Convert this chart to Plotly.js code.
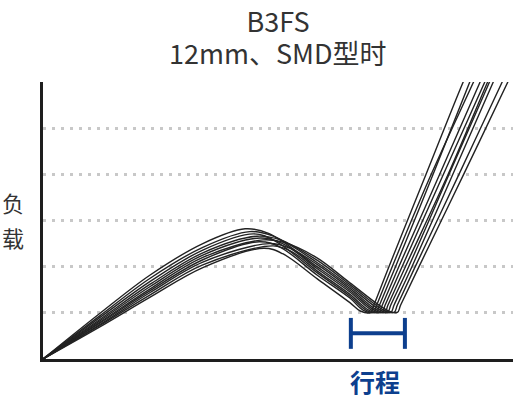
<!DOCTYPE html>
<html>
<head>
<meta charset="utf-8">
<script src="https://cdn.plot.ly/plotly-3.0.1.min.js"></script>
<style>
  html, body { margin: 0; padding: 0; background: #fff; }
  #gd { width: 516px; height: 402px; }
</style>
</head>
<body>
<div id="gd"></div>
<script>
var travel = [
  [0, 1.2, 2.28, 3.4, 4.30, 4.80, 5.83, 6.53, 7.05, 7.27, 7.34, 7.71, 8.62, 9.46, 9.68],
  [0, 1.2, 2.28, 3.4, 4.40, 4.90, 5.83, 6.53, 7.18, 7.40, 7.47, 7.85, 8.72, 9.58, 9.80],
  [0, 1.2, 2.28, 3.4, 4.48, 4.95, 5.83, 6.53, 6.87, 7.09, 7.16, 7.50, 8.30, 9.08, 9.29],
  [0, 1.2, 2.28, 3.4, 4.55, 5.05, 5.83, 6.53, 7.25, 7.47, 7.54, 7.92, 8.85, 9.77, 10.0],
  [0, 1.2, 2.28, 3.4, 4.62, 5.10, 5.83, 6.53, 6.99, 7.21, 7.28, 7.64, 8.52, 9.40, 9.62],
  [0, 1.2, 2.28, 3.4, 4.68, 5.15, 5.83, 6.53, 7.32, 7.54, 7.61, 8.00, 8.95, 9.89, 10.12],
  [0, 1.2, 2.28, 3.4, 4.60, 5.05, 5.83, 6.53, 6.81, 7.03, 7.10, 7.43, 8.26, 9.16, 9.38],
  [0, 1.2, 2.28, 3.4, 4.82, 5.25, 5.83, 6.53, 7.11, 7.33, 7.40, 7.78, 8.64, 9.50, 9.72],
  [0, 1.2, 2.28, 3.4, 4.90, 5.30, 5.83, 6.53, 6.93, 7.15, 7.22, 7.57, 8.44, 9.30, 9.52],
  [0, 1.2, 2.28, 3.4, 4.70, 5.10, 5.83, 6.53, 6.75, 6.97, 7.04, 7.36, 8.15, 8.94, 9.16]
];
var load = [
  [0, 0.98, 1.82, 2.50, 2.82, 2.72, 2.00, 1.49, 1.06, 1.01, 1.17, 2, 4, 6, 6.5],
  [0, 0.93, 1.75, 2.42, 2.76, 2.66, 2.09, 1.57, 1.06, 1.01, 1.17, 2, 4, 6, 6.5],
  [0, 0.89, 1.68, 2.36, 2.71, 2.55, 1.87, 1.36, 1.06, 1.01, 1.17, 2, 4, 6, 6.5],
  [0, 0.85, 1.62, 2.30, 2.66, 2.58, 2.14, 1.61, 1.06, 1.01, 1.17, 2, 4, 6, 6.5],
  [0, 0.82, 1.57, 2.25, 2.62, 2.50, 1.96, 1.45, 1.06, 1.01, 1.17, 2, 4, 6, 6.5],
  [0, 0.79, 1.52, 2.20, 2.58, 2.52, 2.19, 1.65, 1.06, 1.01, 1.17, 2, 4, 6, 6.5],
  [0, 0.77, 1.48, 2.15, 2.54, 2.42, 1.82, 1.32, 1.06, 1.01, 1.17, 2, 4, 6, 6.5],
  [0, 0.74, 1.44, 2.10, 2.50, 2.40, 2.05, 1.53, 1.06, 1.01, 1.17, 2, 4, 6, 6.5],
  [0, 0.72, 1.39, 2.04, 2.45, 2.32, 1.91, 1.40, 1.06, 1.01, 1.17, 2, 4, 6, 6.5],
  [0, 0.69, 1.34, 1.98, 2.40, 2.28, 1.74, 1.22, 1.04, 1.01, 1.17, 2, 4, 6, 6.5]
];

// the blue stroke bracket
var bracketX = [6.55, 6.55, null, 6.55, 7.70, null, 7.70, 7.70];
var bracketY = [0.22, 0.89, null, 0.56, 0.56, null, 0.22, 0.89];

var gridLevels = [1, 2, 3, 4, 5];

var blue = "#0d3f8e";
var font = "Noto Sans CJK SC";

var data = [];
for (var i = 0; i < travel.length; i++) {
  data.push({
    x: travel[i],
    y: load[i],
    type: "scatter",
    mode: "lines",
    line: {color: "#222", width: 1.4, shape: "spline", smoothing: 1},
    hoverinfo: "skip",
    showlegend: false
  });
}
data.push({
  x: bracketX,
  y: bracketY,
  type: "scatter",
  mode: "lines",
  line: {color: blue, width: 4},
  hoverinfo: "skip",
  showlegend: false
});

var layout = {
  width: 516,
  height: 402,
  margin: {l: 43, r: 3, t: 82, b: 43},
  paper_bgcolor: "#fff",
  plot_bgcolor: "#fff",
  font: {family: font, color: "#333"},
  title: {
    text: "B3FS",
    font: {size: 27, color: "#333", family: font},
    x: 0.5,
    xref: "paper",
    xanchor: "center",
    y: 0.944,
    yref: "container",
    yanchor: "middle"
  },
  xaxis: {
    range: [0, 10],
    showgrid: false,
    zeroline: false,
    showticklabels: false,
    ticks: "",
    showline: true,
    linewidth: 3,
    linecolor: "#1e1e1e",
    fixedrange: true
  },
  yaxis: {
    range: [0, 6],
    tickvals: gridLevels,
    showgrid: true,
    gridcolor: "#c8c8c8",
    gridwidth: 3,
    griddash: "3px,6px",
    zeroline: false,
    showticklabels: false,
    ticks: "",
    showline: true,
    linewidth: 3,
    linecolor: "#1e1e1e",
    fixedrange: true
  },
  annotations: [
    // second title line
    {text: "12mm、SMD型时", xref: "paper", yref: "paper", x: 0.5, y: 1.105,
     showarrow: false, font: {size: 27, color: "#333"}, xanchor: "center", yanchor: "middle"},
    {text: "负", xref: "paper", yref: "paper", x: -0.063, y: 0.565,
     showarrow: false, font: {size: 22, color: "#333"}, xanchor: "center", yanchor: "middle"},
    {text: "载", xref: "paper", yref: "paper", x: -0.063, y: 0.439,
     showarrow: false, font: {size: 22, color: "#333"}, xanchor: "center", yanchor: "middle"},
    {text: "<b>行程</b>", xref: "paper", yref: "paper", x: 0.706, y: -0.081,
     showarrow: false, font: {size: 25, color: blue}, xanchor: "center", yanchor: "middle"}
  ]
};

Plotly.newPlot("gd", data, layout, {displayModeBar: false, staticPlot: true});
</script>
</body>
</html>
